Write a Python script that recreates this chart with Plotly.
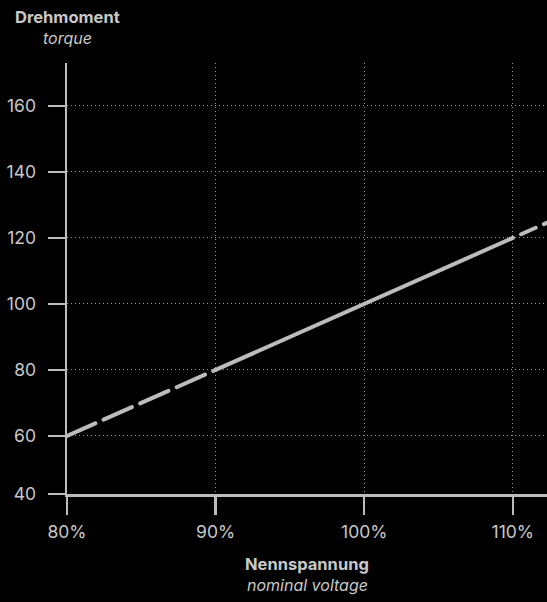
import plotly.graph_objects as go

# data
voltage_low = [80, 90]
torque_low = [60, 80]
voltage_mid = [90, 100, 110]
torque_mid = [80, 100, 120]
voltage_high = [110, 120]
torque_high = [120, 140]

x_tick_vals = [80, 90, 100, 110]
x_tick_text = ["80%", "90%", "100%", "110%"]
y_tick_vals = [42.4, 60, 80, 100, 120, 140, 160]
y_tick_text = ["40", "60", "80", "100", "120", "140", "160"]

LINE = "#bcbcbc"
AXIS = "#bcbcbc"
TEXT = "#c8c8c8"
GRID = "#9a9a9a"
FONT = "Inter"

fig = go.Figure()
fig.add_trace(go.Scatter(x=voltage_low, y=torque_low, mode="lines",
                         line=dict(color=LINE, width=4, dash="31px,9px")))
fig.add_trace(go.Scatter(x=voltage_mid, y=torque_mid, mode="lines",
                         line=dict(color=LINE, width=4)))
fig.add_trace(go.Scatter(x=voltage_high, y=torque_high, mode="lines",
                         line=dict(color=LINE, width=4, dash="16px,9px")))

fig.update_layout(
    width=547, height=602,
    paper_bgcolor="#000000", plot_bgcolor="#000000",
    margin=dict(l=67, r=0, t=63, b=108),
    showlegend=False,
    hovermode=False,
    font=dict(family=FONT, color=TEXT, size=17),
    xaxis=dict(range=[80, 112.3], tickvals=x_tick_vals, ticktext=x_tick_text,
               showline=True, linecolor=AXIS, linewidth=2.5,
               ticks="outside", ticklen=18, tickwidth=2.5, tickcolor=AXIS,
               ticklabelstandoff=2,
               showgrid=True, gridcolor=GRID, gridwidth=1, griddash="1px,3px",
               zeroline=False, tickfont=dict(size=17.5, color=TEXT)),
    yaxis=dict(range=[42.4, 173], tickvals=y_tick_vals, ticktext=y_tick_text,
               showline=True, linecolor=AXIS, linewidth=2.5,
               ticks="outside", ticklen=17, tickwidth=2.5, tickcolor=AXIS,
               ticklabelstandoff=8,
               showgrid=True, gridcolor=GRID, gridwidth=1, griddash="1px,3px",
               zeroline=False, tickfont=dict(size=17.5, color=TEXT)),
)

fig.add_annotation(text="<b>Drehmoment</b>", xref="paper", yref="paper",
                   x=0, y=1 + (63 - 17) / 431, xanchor="center", yanchor="middle",
                   showarrow=False, font=dict(size=16.5, color=TEXT, family=FONT))
fig.add_annotation(text="<i>torque</i>", xref="paper", yref="paper",
                   x=0, y=1 + (63 - 38) / 431, xanchor="center", yanchor="middle",
                   showarrow=False, font=dict(size=16, color=TEXT, family=FONT))
fig.add_annotation(text="<b>Nennspannung</b>", xref="paper", yref="paper",
                   x=0.5, y=-(564 - 494) / 431, xanchor="center", yanchor="middle",
                   showarrow=False, font=dict(size=16.5, color=TEXT, family=FONT))
fig.add_annotation(text="<i>nominal voltage</i>", xref="paper", yref="paper",
                   x=0.5, y=-(585 - 494) / 431, xanchor="center", yanchor="middle",
                   showarrow=False, font=dict(size=16, color=TEXT, family=FONT))

post_script = """
document.body.style.margin = '0';
document.body.style.overflow = 'hidden';
var gd = document.getElementById('{plot_id}');
function styleLines() {
  var traces = gd.querySelectorAll('.scatterlayer .trace');
  traces.forEach(function (t, i) {
    t.querySelectorAll('path.js-line').forEach(function (p) {
      p.style.strokeLinecap = 'round';
      if (i === 2) { p.style.strokeDashoffset = '16px'; }
    });
  });
}
styleLines();
gd.on('plotly_afterplot', styleLines);
"""

fig.write_html("out.html", post_script=post_script,
               config={"displayModeBar": False, "staticPlot": True})
